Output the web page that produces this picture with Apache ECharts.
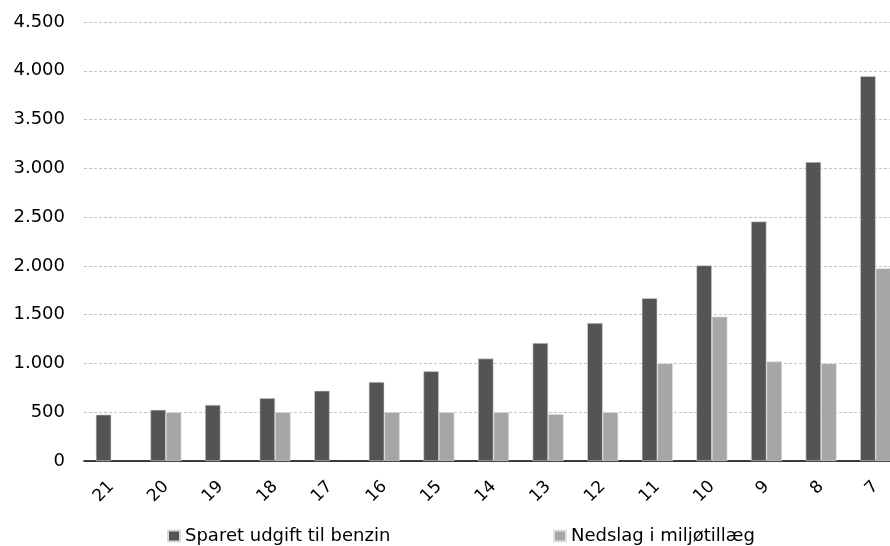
<!DOCTYPE html>
<html>
<head>
<meta charset="utf-8">
<script src="https://cdn.jsdelivr.net/npm/echarts@6/dist/echarts.min.js"></script>
<style>html,body{margin:0;padding:0;background:#fff;overflow:hidden}#c{width:903px;height:546px}</style>
</head>
<body>
<div id="c"></div>
<script>
const categories = ['21','20','19','18','17','16','15','14','13','12','11','10','9','8','7'];
const sparetBenzin = [475, 525, 575, 645, 720, 810, 920, 1050, 1210, 1415, 1670, 2005, 2455, 3065, 3945];
const nedslagMiljo = [null, 500, null, 500, null, 500, 500, 500, 480, 500, 1000, 1480, 1020, 1000, 1975];
const seriesNames = ['Sparet udgift til benzin', 'Nedslag i miljøtillæg'];
const yTicks = { min: 0, max: 4500, interval: 500 };

const chart = echarts.init(document.getElementById('c'), null, { renderer: 'canvas' });
const font = 'DejaVu Sans';
const legendBase = {
  top: 527, itemWidth: 12, itemHeight: 11, icon: 'rect', padding: 0,
  textStyle: { fontFamily: font, fontSize: 18, color: '#000' }
};
chart.setOption({
  animation: false,
  backgroundColor: '#ffffff',
  textStyle: { fontFamily: font },
  grid: { left: 84, right: 0, top: 22, bottom: 85, containLabel: false },
  legend: [
    Object.assign({ data: [seriesNames[0]], left: 167 }, legendBase),
    Object.assign({ data: [seriesNames[1]], left: 553 }, legendBase)
  ],
  xAxis: {
    type: 'category',
    data: categories,
    axisLine: { lineStyle: { color: '#000', width: 1.5 } },
    axisTick: { show: false },
    axisLabel: { rotate: 45, margin: 23, fontFamily: font, fontSize: 17, color: '#000' }
  },
  yAxis: {
    type: 'value',
    min: yTicks.min, max: yTicks.max, interval: yTicks.interval,
    axisLine: { show: false },
    axisTick: { show: false },
    splitLine: { lineStyle: { color: '#c4c4c4', type: [3, 2], width: 1 } },
    axisLabel: {
      margin: 19, fontFamily: font, fontSize: 18, color: '#000',
      formatter: v => String(v).replace(/\B(?=(\d{3})+(?!\d))/g, '.')
    }
  },
  series: [
    { name: seriesNames[0], type: 'bar', data: sparetBenzin, barWidth: 15.5, barGap: '0%',
      itemStyle: { color: '#545454', borderColor: '#d8d8d8', borderWidth: 0.6 } },
    { name: seriesNames[1], type: 'bar', data: nedslagMiljo, barWidth: 15.5, barGap: '0%',
      itemStyle: { color: '#a6a6a6', borderColor: '#e0e0e0', borderWidth: 0.6 } }
  ]
});
</script>
</body>
</html>
